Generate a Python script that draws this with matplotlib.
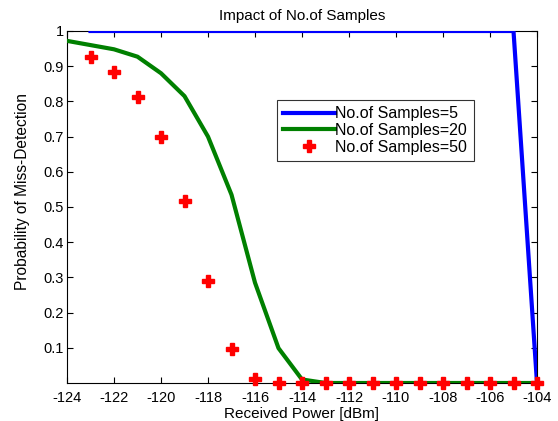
import matplotlib
matplotlib.use("Agg")
import matplotlib.pyplot as plt
import numpy as np

plt.rcParams['font.family'] = ['Liberation Sans', 'DejaVu Sans']
plt.rcParams['axes.unicode_minus'] = False

x5 = list(range(-123, -103))
y5 = [1.0] * 19 + [0.0]

x20 = list(range(-124, -103))
y20 = [0.972, 0.96, 0.948, 0.927, 0.88, 0.815, 0.70, 0.535, 0.285, 0.099, 0.01,
       0, 0, 0, 0, 0, 0, 0, 0, 0, 0]

x50 = list(range(-123, -103))
y50 = [0.925, 0.884, 0.813, 0.698, 0.518, 0.291, 0.097, 0.011, 0.001,
       0, 0, 0, 0, 0, 0, 0, 0, 0, 0, 0]

xticks = list(range(-124, -103, 2))
yticks = [0.1, 0.2, 0.3, 0.4, 0.5, 0.6, 0.7, 0.8, 0.9, 1]
ytick_labels = ['0.1', '0.2', '0.3', '0.4', '0.5', '0.6', '0.7', '0.8', '0.9', '1']

fig = plt.figure(figsize=(5.58, 4.21), dpi=100)
ax = fig.add_axes([67/558, 38/421, 470/558, 352/421])

ax.plot(x5, y5, color='#0000ff', lw=3, label='No.of Samples=5', zorder=3)
ax.plot(x20, y20, color='#008000', lw=3, label='No.of Samples=20', zorder=3)
ax.plot(x50, y50, ls='none', marker='P', ms=8, color='#ff0000', mec='#ff0000',
        label='No.of Samples=50', zorder=4, clip_on=False)

ax.set_xlim(-124, -104)
ax.set_ylim(0, 1)
ax.set_xticks(xticks)
ax.set_xticklabels([str(t) for t in xticks])
ax.set_yticks(yticks)
ax.set_yticklabels(ytick_labels)
ax.tick_params(direction='in', top=True, right=True, labelsize=10.5, length=4)
ax.tick_params(axis='x', pad=6)
ax.tick_params(axis='y', pad=2)
for s in ax.spines.values():
    s.set_linewidth(0.8)

ax.set_title('Impact of No.of Samples', fontsize=11, pad=8)
ax.set_xlabel('Received Power [dBm]', fontsize=11, labelpad=1)
ax.set_ylabel('Probability of Miss-Detection', fontsize=11.2, va='center')
ax.yaxis.set_label_coords((23 - 67) / 470, (383 - 192) / 352)

leg = ax.legend(loc='upper left', bbox_to_anchor=((277-67)/470, (383-100)/352),
                fontsize=11.5, frameon=True, fancybox=False, edgecolor='black',
                borderpad=0.4, handlelength=3.2, handletextpad=0.05,
                labelspacing=0.1, borderaxespad=0)
leg.get_frame().set_linewidth(0.8)

fig.savefig('out.png', dpi=100)
